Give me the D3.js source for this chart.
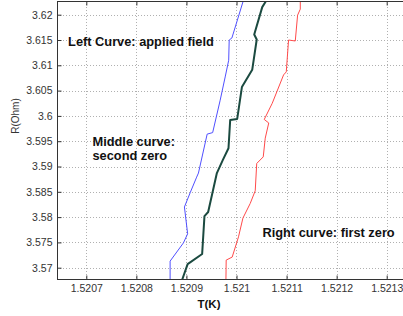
<!DOCTYPE html>
<html>
<head>
<meta charset="utf-8">
<script src="https://cdn.jsdelivr.net/npm/d3@7"></script>
<style>
  body { margin: 0; background: #fff; }
  svg { display: block; }
  text { font-family: "Liberation Sans", Arial, Helvetica, sans-serif; }
</style>
</head>
<body>
<svg id="chart" width="403" height="316"></svg>
<script>
// ---- data ----
const xTicks = [1.5207, 1.5208, 1.5209, 1.5210, 1.5211, 1.5212, 1.5213];
const xTickLabels = ["1.5207", "1.5208", "1.5209", "1.521", "1.5211", "1.5212", "1.5213"];
const yTicks = [3.57, 3.575, 3.58, 3.585, 3.59, 3.595, 3.60, 3.605, 3.61, 3.615, 3.62];
const yTickLabels = ["3.57", "3.575", "3.58", "3.585", "3.59", "3.595", "3.6", "3.605", "3.61", "3.615", "3.62"];

// Left curve: applied field
const leftT = [1.5208674, 1.5208674, 1.5208940, 1.5209024, 1.5208960, 1.5209074, 1.5209204, 1.5209240,
               1.5209414, 1.5209524, 1.5209674, 1.5209774, 1.5209844, 1.5209854, 1.5209908, 1.5210140];
const leftR = [3.5670, 3.5713, 3.5749, 3.5767, 3.5820, 3.5848, 3.5879, 3.5887,
               3.5964, 3.5967, 3.6031, 3.6077, 3.6110, 3.6150, 3.6154, 3.6229];

// Middle curve: second zero
const midT = [1.5208900, 1.5209024, 1.5209314, 1.5209360, 1.5209434, 1.5209608, 1.5209728, 1.5209840,
              1.5209874, 1.5210014, 1.5210108, 1.5210314, 1.5210404, 1.5210354, 1.5210514, 1.5210584, 1.5210610];
const midR = [3.5672, 3.5707, 3.5727, 3.5802, 3.5810, 3.5887, 3.5913, 3.5936,
              3.5992, 3.5994, 3.6057, 3.6091, 3.6151, 3.6161, 3.6215, 3.6226, 3.6235];

// Right curve: first zero
const rightT = [1.5209788, 1.5209794, 1.5209914, 1.5210040, 1.5210128, 1.5210274, 1.5210374, 1.5210404,
                1.5210534, 1.5210574, 1.5210644, 1.5210554, 1.5210714, 1.5210940, 1.5210994, 1.5211040,
                1.5211174, 1.5211220, 1.5211274, 1.5211274];
const rightR = [3.5670, 3.5715, 3.5721, 3.5761, 3.5798, 3.5827, 3.5852, 3.5906,
                3.5919, 3.5956, 3.5986, 3.5993, 3.6025, 3.6081, 3.6087, 3.6150,
                3.6148, 3.6199, 3.6211, 3.6235];

const series = [
  { name: "left",  T: leftT,  R: leftR,  color: "#5050ff", width: 1 },
  { name: "mid",   T: midT,   R: midR,   color: "#1b4a40", width: 2 },
  { name: "right", T: rightT, R: rightR, color: "#ff4a4a", width: 1 }
];

const annotations = [
  { lines: ["Left Curve: applied field"], T: 1.5206636, R: 3.61470 },
  { lines: ["Middle curve:", "second zero"], T: 1.5207124, R: 3.59490 },
  { lines: ["Right curve: first zero"], T: 1.5210518, R: 3.57700 }
];

// ---- layout ----
const svg = d3.select("#chart");
const pL = 57, pR = 403, pT = 1, pB = 279;

const x = d3.scaleLinear().domain([1.5207, 1.5213]).range([86.3, 386.7]);
const y = d3.scaleLinear().domain([3.57, 3.62]).range([267.7, 14.7]);

// clip
svg.append("defs").append("clipPath").attr("id", "clip")
  .append("rect").attr("x", pL).attr("y", pT).attr("width", pR - pL).attr("height", pB - pT);

// grid
const grid = svg.append("g").attr("stroke", "#b0b0b0").attr("stroke-width", 1)
  .attr("stroke-dasharray", "1,2");
grid.selectAll("line.vx").data(xTicks).join("line")
  .attr("x1", d => Math.round(x(d)) + 0.5).attr("x2", d => Math.round(x(d)) + 0.5)
  .attr("y1", pT).attr("y2", pB);
grid.selectAll("line.hy").data(yTicks).join("line")
  .attr("y1", d => Math.round(y(d)) + 0.5).attr("y2", d => Math.round(y(d)) + 0.5)
  .attr("x1", pL).attr("x2", pR);

// curves
const line = d3.line().x(d => x(d[0])).y(d => y(d[1]));
const plot = svg.append("g").attr("clip-path", "url(#clip)");
series.forEach(s => {
  const pts = s.T.map((t, i) => [t, s.R[i]]);
  plot.append("path").datum(pts)
    .attr("d", line)
    .attr("fill", "none")
    .attr("stroke", s.color)
    .attr("stroke-width", s.width)
    .attr("stroke-linejoin", "round");
});

// axes (inward ticks)
const axisColor = "#333";
const xAxis = svg.append("g").attr("transform", `translate(0,${pB + 0.5})`)
  .call(d3.axisBottom(x).tickValues(xTicks).tickSizeInner(-4).tickSizeOuter(0)
    .tickFormat((d, i) => xTickLabels[i]));
xAxis.select(".domain").attr("d", `M${pL},0H${pR}`);
xAxis.selectAll("text").attr("y", 5).attr("dy", "0.71em").attr("font-size", "10.5px").attr("fill", "#333");

const xTop = svg.append("g").attr("transform", `translate(0,${pT + 0.5})`)
  .call(d3.axisTop(x).tickValues(xTicks).tickSizeInner(-4).tickSizeOuter(0).tickFormat(""));
xTop.select(".domain").attr("d", `M${pL},0H${pR}`);

const yAxis = svg.append("g").attr("transform", `translate(${pL + 0.5},0)`)
  .call(d3.axisLeft(y).tickValues(yTicks).tickSizeInner(-4).tickSizeOuter(0)
    .tickFormat((d, i) => yTickLabels[i]));
yAxis.select(".domain").attr("d", `M0,${pT}V${pB}`);
yAxis.selectAll("text").attr("x", -5).attr("font-size", "10.5px").attr("fill", "#333");

[xAxis, xTop, yAxis].forEach(g => {
  g.selectAll("path, line").attr("stroke", axisColor);
  g.attr("font-family", null);
});

// axis titles
svg.append("text").attr("x", 209).attr("y", 303.5).attr("dy", "0.35em")
  .attr("text-anchor", "middle").attr("font-size", "11.5px").attr("font-weight", "bold")
  .attr("fill", "#111").text("T(K)");
svg.append("text").attr("transform", "translate(15,116) rotate(-90)")
  .attr("text-anchor", "middle").attr("dy", "0.35em").attr("font-size", "10px")
  .attr("fill", "#333").text("R(Ohm)");

// annotations
annotations.forEach(a => {
  a.lines.forEach((ln, i) => {
    svg.append("text").attr("x", x(a.T)).attr("y", y(a.R) + i * 14).attr("dy", "0.35em")
      .attr("font-size", "12.8px").attr("font-weight", "bold").attr("fill", "#111").text(ln);
  });
});
</script>
</body>
</html>
